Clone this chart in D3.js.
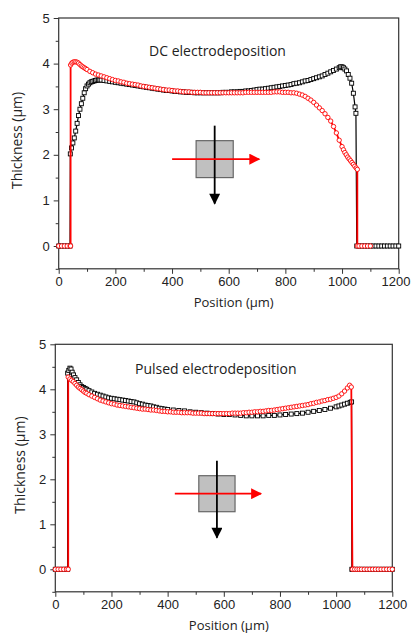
<!DOCTYPE html>
<html>
<head>
<meta charset="utf-8">
<script src="https://cdn.jsdelivr.net/npm/d3@7"></script>
<style>
  body { margin: 0; background: #fff; }
  svg { display: block; font-family: "Open Sans", sans-serif; }
  .axis text { font-size: 13px; fill: #222; }
  .axis line { stroke: #333; }
  .axis path { display: none; }
</style>
</head>
<body>
<div id="chart"></div>
<script>
// tick labels
var xTicks = [0, 200, 400, 600, 800, 1000, 1200];
var xMinor = [100, 300, 500, 700, 900, 1100];
var yTicks = [0, 1, 2, 3, 4, 5];
var yMinor = [-0.5, 0.5, 1.5, 2.5, 3.5, 4.5];

// DC electrodeposition, [position um, thickness um]
var dcSquare = [[0,0],[10,0],[20,0],[30,0],[40,0],[41,2.02],[45,2.15],[50,2.26],[55,2.37],[60,2.52],[65,2.69],[70,2.86],[75,3.00],[80,3.12],[85,3.24],[90,3.36],[95,3.45],[100,3.51],[105,3.55],[110,3.58],[115,3.60],[120,3.61],[125,3.62],[130,3.63],[135,3.64],[140,3.64],[145,3.64],[150,3.64],[160,3.63],[170,3.62],[180,3.61],[190,3.60],[200,3.59],[210,3.58],[220,3.57],[230,3.56],[240,3.55],[250,3.54],[260,3.53],[270,3.52],[280,3.51],[290,3.50],[300,3.49],[310,3.48],[320,3.47],[330,3.46],[340,3.45],[350,3.44],[360,3.43],[370,3.42],[380,3.41],[390,3.41],[400,3.40],[410,3.39],[420,3.39],[430,3.38],[440,3.38],[450,3.37],[460,3.37],[470,3.37],[480,3.36],[490,3.36],[500,3.36],[510,3.36],[520,3.36],[530,3.36],[540,3.36],[550,3.36],[560,3.36],[570,3.36],[580,3.37],[590,3.37],[600,3.37],[610,3.38],[620,3.38],[630,3.38],[640,3.39],[650,3.39],[660,3.40],[670,3.40],[680,3.41],[690,3.42],[700,3.43],[710,3.44],[720,3.44],[730,3.45],[740,3.46],[750,3.47],[760,3.48],[770,3.49],[780,3.50],[790,3.51],[800,3.52],[810,3.53],[820,3.54],[830,3.56],[840,3.57],[850,3.58],[860,3.60],[870,3.62],[880,3.63],[890,3.65],[900,3.67],[910,3.69],[920,3.71],[930,3.73],[940,3.76],[950,3.79],[960,3.82],[970,3.85],[980,3.88],[990,3.91],[995,3.93],[1000,3.93],[1005,3.91],[1010,3.88],[1016,3.84],[1022,3.76],[1028,3.68],[1034,3.57],[1040,3.35],[1046,3.05],[1049,2.91],[1052,0],[1060,0],[1070,0],[1080,0],[1090,0],[1100,0],[1110,0],[1120,0],[1130,0],[1140,0],[1150,0],[1160,0],[1170,0],[1180,0],[1190,0],[1200,0]];
var dcCircle = [[0,0],[10,0],[20,0],[30,0],[40,0],[42,0],[42,3.97],[46,4.01],[50,4.03],[55,4.04],[60,4.04],[65,4.03],[70,4.01],[75,3.98],[80,3.95],[85,3.93],[90,3.91],[95,3.89],[100,3.87],[110,3.83],[120,3.80],[130,3.77],[140,3.75],[150,3.73],[160,3.71],[170,3.69],[180,3.67],[190,3.65],[200,3.63],[210,3.62],[220,3.60],[230,3.59],[240,3.57],[250,3.56],[260,3.55],[270,3.54],[280,3.53],[290,3.51],[300,3.50],[310,3.49],[320,3.48],[330,3.47],[340,3.46],[350,3.45],[360,3.44],[370,3.43],[380,3.42],[390,3.42],[400,3.41],[410,3.40],[420,3.40],[430,3.39],[440,3.38],[450,3.38],[460,3.38],[470,3.37],[480,3.37],[490,3.37],[500,3.37],[510,3.36],[520,3.36],[530,3.36],[540,3.36],[550,3.36],[560,3.36],[570,3.36],[580,3.36],[590,3.36],[600,3.36],[610,3.36],[620,3.36],[630,3.36],[640,3.36],[650,3.36],[660,3.37],[670,3.37],[680,3.37],[690,3.37],[700,3.37],[710,3.37],[720,3.37],[730,3.37],[740,3.37],[750,3.37],[760,3.38],[770,3.38],[780,3.38],[790,3.37],[800,3.37],[810,3.37],[820,3.36],[830,3.36],[840,3.35],[850,3.33],[860,3.31],[870,3.28],[880,3.24],[890,3.20],[900,3.15],[910,3.09],[920,3.03],[930,2.97],[940,2.90],[950,2.82],[960,2.74],[970,2.62],[980,2.48],[990,2.32],[1000,2.18],[1005,2.11],[1010,2.05],[1015,2.00],[1020,1.95],[1025,1.91],[1030,1.87],[1035,1.83],[1040,1.79],[1045,1.75],[1050,1.71],[1054,1.68],[1054,0],[1060,0],[1070,0],[1080,0],[1090,0],[1100,0]];

// Pulsed electrodeposition
var pulseSquare = [[0,0],[10,0],[20,0],[30,0],[40,0],[44,0],[44,4.36],[48,4.42],[52,4.47],[56,4.45],[60,4.38],[65,4.32],[70,4.26],[76,4.21],[82,4.15],[88,4.10],[94,4.06],[100,4.04],[106,4.02],[112,4.00],[120,3.97],[130,3.94],[140,3.91],[150,3.89],[160,3.87],[170,3.85],[180,3.83],[190,3.81],[200,3.80],[210,3.79],[220,3.78],[230,3.77],[240,3.76],[250,3.75],[260,3.74],[270,3.73],[280,3.72],[290,3.70],[300,3.68],[310,3.67],[320,3.65],[330,3.64],[340,3.63],[350,3.61],[360,3.60],[370,3.58],[380,3.57],[390,3.56],[400,3.55],[420,3.54],[440,3.53],[460,3.52],[480,3.50],[500,3.49],[520,3.48],[540,3.47],[560,3.46],[580,3.45],[600,3.44],[620,3.44],[640,3.43],[660,3.42],[680,3.41],[700,3.41],[720,3.41],[740,3.41],[760,3.42],[780,3.42],[800,3.43],[820,3.44],[840,3.45],[860,3.46],[880,3.47],[900,3.49],[920,3.51],[940,3.53],[960,3.55],[980,3.58],[1000,3.61],[1010,3.63],[1020,3.65],[1030,3.67],[1040,3.69],[1050,3.71],[1055,3.72],[1056,0],[1060,0],[1070,0],[1080,0],[1090,0],[1100,0],[1110,0],[1120,0],[1130,0],[1140,0],[1150,0],[1160,0],[1170,0],[1180,0],[1190,0],[1200,0]];
var pulseCircle = [[0,0],[10,0],[20,0],[30,0],[40,0],[46,0],[46,4.27],[52,4.23],[58,4.20],[64,4.17],[70,4.13],[76,4.09],[82,4.05],[88,4.02],[94,3.99],[100,3.96],[106,3.93],[112,3.91],[120,3.88],[130,3.85],[140,3.82],[150,3.79],[160,3.76],[170,3.74],[180,3.72],[190,3.70],[200,3.68],[210,3.67],[220,3.65],[230,3.64],[240,3.63],[250,3.62],[260,3.61],[270,3.60],[280,3.59],[290,3.58],[300,3.57],[310,3.56],[320,3.56],[330,3.55],[340,3.54],[350,3.54],[360,3.53],[370,3.52],[380,3.51],[390,3.51],[400,3.50],[410,3.50],[420,3.49],[430,3.49],[440,3.49],[450,3.48],[460,3.48],[470,3.48],[480,3.48],[490,3.47],[500,3.47],[510,3.47],[520,3.47],[530,3.46],[540,3.46],[550,3.46],[560,3.46],[570,3.46],[580,3.46],[590,3.46],[600,3.46],[610,3.46],[620,3.46],[630,3.47],[640,3.47],[650,3.47],[660,3.47],[670,3.48],[680,3.48],[690,3.49],[700,3.49],[710,3.50],[720,3.50],[730,3.51],[740,3.51],[750,3.52],[760,3.53],[770,3.53],[780,3.54],[790,3.55],[800,3.56],[810,3.57],[820,3.58],[830,3.59],[840,3.60],[850,3.61],[860,3.62],[870,3.63],[880,3.64],[890,3.65],[900,3.66],[910,3.68],[920,3.69],[930,3.71],[940,3.72],[950,3.74],[960,3.75],[970,3.77],[980,3.78],[990,3.80],[1000,3.82],[1010,3.85],[1020,3.90],[1030,3.96],[1040,4.03],[1048,4.09],[1054,4.05],[1058,0],[1066,0],[1074,0],[1082,0],[1090,0],[1100,0],[1110,0],[1120,0],[1130,0],[1140,0],[1150,0],[1160,0],[1170,0],[1180,0],[1190,0],[1200,0]];

var W = 411, H = 635;

var svg = d3.select("#chart").append("svg")
    .attr("width", W)
    .attr("height", H);

svg.append("defs").selectAll("marker")
    .data([["headRed", "#ff0000"], ["headBlack", "#000"]])
    .enter().append("marker")
      .attr("id", function(d) { return d[0]; })
      .attr("viewBox", "0 0 10 10")
      .attr("refX", 9).attr("refY", 5)
      .attr("markerUnits", "userSpaceOnUse")
      .attr("markerWidth", 16).attr("markerHeight", 11)
      .attr("orient", "auto")
    .append("path")
      .attr("d", "M0,0L10,5L0,10z")
      .attr("fill", function(d) { return d[1]; });

function renderPanel(opt) {
  var x = d3.scaleLinear().domain([0, 1200]).range([opt.left, opt.right]);
  var y = d3.scaleLinear().domain([-0.5, 5]).range([opt.bottom, opt.top]);
  var g = svg.append("g");

  // minor ticks
  g.append("g").attr("class", "axis")
      .attr("transform", "translate(0," + opt.bottom + ")")
      .call(d3.axisBottom(x).tickValues(xMinor).tickSize(3).tickFormat(""));
  g.append("g").attr("class", "axis")
      .attr("transform", "translate(" + opt.left + ",0)")
      .call(d3.axisLeft(y).tickValues(yMinor).tickSize(3).tickFormat(""));

  var xa = g.append("g").attr("class", "axis")
      .attr("transform", "translate(0," + opt.bottom + ")")
      .call(d3.axisBottom(x).tickValues(xTicks).tickSize(5).tickPadding(3).tickFormat(d3.format("d")));
  // keep the last label inside the window
  xa.selectAll("text").each(function(d) {
    var over = x(d) + this.getComputedTextLength() / 2 - (W - 1);
    if (over > 0) d3.select(this).attr("dx", -over);
  });
  g.append("g").attr("class", "axis")
      .attr("transform", "translate(" + opt.left + ",0)")
      .call(d3.axisLeft(y).tickValues(yTicks).tickSize(5).tickPadding(4).tickFormat(d3.format("d")));

  g.append("rect")
      .attr("x", opt.left).attr("y", opt.top)
      .attr("width", opt.right - opt.left)
      .attr("height", opt.bottom - opt.top)
      .attr("fill", "none")
      .attr("stroke", "#333")
      .attr("stroke-width", 1.2);

  g.append("text")
      .attr("x", (opt.left + opt.right) / 2 + 5)
      .attr("y", opt.bottom + 38)
      .attr("text-anchor", "middle")
      .attr("font-size", 13).attr("fill", "#222")
      .text("Position (\u00b5m)");

  g.append("text")
      .attr("transform", "translate(" + opt.yTitleX + "," + ((opt.top + opt.bottom) / 2 - 3) + ") rotate(-90)")
      .attr("text-anchor", "middle")
      .attr("font-size", 14).attr("fill", "#222")
      .text("Thickness (\u00b5m)");

  g.append("text")
      .attr("x", x(opt.label[1])).attr("y", y(opt.label[2]))
      .attr("font-size", 14).attr("fill", "#222")
      .text(opt.label[0]);

  // sample sketch: gray pad with scan arrows
  var b = opt.box;
  g.append("rect")
      .attr("x", x(b[0])).attr("y", y(b[3]))
      .attr("width", x(b[1]) - x(b[0]))
      .attr("height", y(b[2]) - y(b[3]))
      .attr("fill", "#c0c0c0")
      .attr("stroke", "#666")
      .attr("stroke-width", 1.2);
  var cx = (x(b[0]) + x(b[1])) / 2, cy = (y(b[2]) + y(b[3])) / 2;
  g.append("line")
      .attr("x1", cx).attr("x2", cx)
      .attr("y1", y(b[3]) - 15).attr("y2", y(b[2]) + 26)
      .attr("stroke", "#000").attr("stroke-width", 1.8)
      .attr("marker-end", "url(#headBlack)");
  g.append("line")
      .attr("x1", x(b[0]) - 24).attr("x2", x(b[1]) + 26)
      .attr("y1", cy).attr("y2", cy)
      .attr("stroke", "#ff0000").attr("stroke-width", 1.8)
      .attr("marker-end", "url(#headRed)");

  var line = d3.line()
      .x(function(d) { return x(d[0]); })
      .y(function(d) { return y(d[1]); });

  var sq = g.append("g");
  sq.append("path").datum(opt.square)
      .attr("d", line).attr("fill", "none")
      .attr("stroke", "#000").attr("stroke-width", 1.2);
  sq.selectAll("rect").data(opt.square).enter().append("rect")
      .attr("x", function(d) { return x(d[0]) - 2; })
      .attr("y", function(d) { return y(d[1]) - 2; })
      .attr("width", 4).attr("height", 4)
      .attr("fill", "#fff").attr("stroke", "#000").attr("stroke-width", 0.9);

  var ci = g.append("g");
  ci.append("path").datum(opt.circle)
      .attr("d", line).attr("fill", "none")
      .attr("stroke", "#ff0000").attr("stroke-width", 1.8);
  ci.selectAll("circle").data(opt.circle).enter().append("circle")
      .attr("cx", function(d) { return x(d[0]); })
      .attr("cy", function(d) { return y(d[1]); })
      .attr("r", 2.2)
      .attr("fill", "#fff").attr("stroke", "#ff0000").attr("stroke-width", 0.9);
}

renderPanel({
  left: 58.7, right: 398.7, top: 18, bottom: 268.8, yTitleX: 22,
  label: ["DC electrodeposition", 319, 4.17],
  box: [485, 616, 1.50, 2.31],
  square: dcSquare, circle: dcCircle
});

renderPanel({
  left: 55.3, right: 392.3, top: 344.3, bottom: 591.8, yTitleX: 25,
  label: ["Pulsed electrodeposition", 284, 4.35],
  box: [511, 640, 1.28, 2.08],
  square: pulseSquare, circle: pulseCircle
});
</script>
</body>
</html>
